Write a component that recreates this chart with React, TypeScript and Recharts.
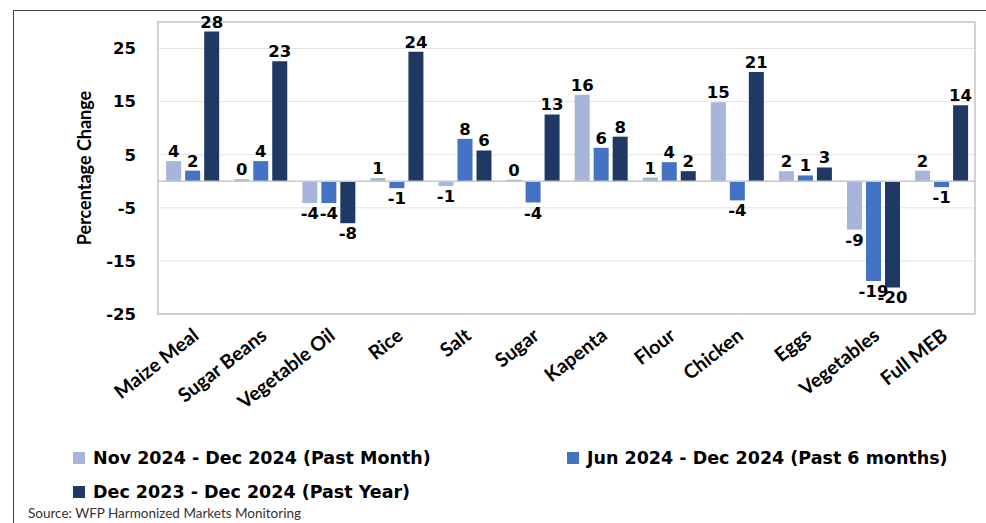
import React from 'react';
import {
  BarChart,
  Bar,
  XAxis,
  YAxis,
  CartesianGrid,
  ReferenceLine,
  ReferenceArea,
  LabelList,
} from 'recharts';

const categories = [
  'Maize Meal',
  'Sugar Beans',
  'Vegetable Oil',
  'Rice',
  'Salt',
  'Sugar',
  'Kapenta',
  'Flour',
  'Chicken',
  'Eggs',
  'Vegetables',
  'Full MEB',
];

const pastMonth = [3.8, 0.4, -4.1, 0.6, -0.9, 0.3, 16.3, 0.7, 14.9, 1.9, -9.1, 2.0];
const pastSixMonths = [2.0, 3.8, -4.1, -1.3, 8.0, -4.0, 6.3, 3.6, -3.6, 1.1, -18.8, -1.1];
const pastYear = [28.2, 22.6, -7.9, 24.4, 5.8, 12.6, 8.4, 1.9, 20.6, 2.6, -20.0, 14.3];

const yTicks = [-25, -15, -5, 5, 15, 25];

const SERIES = [
  { key: 'pastMonth', name: 'Nov 2024 - Dec 2024 (Past Month)', color: '#a7b5db' },
  { key: 'pastSixMonths', name: 'Jun 2024 - Dec 2024 (Past 6 months)', color: '#4472c4' },
  { key: 'pastYear', name: 'Dec 2023 - Dec 2024 (Past Year)', color: '#203864' },
];

const data = categories.map((name, i) => ({
  name,
  pastMonth: pastMonth[i],
  pastSixMonths: pastSixMonths[i],
  pastYear: pastYear[i],
}));

const BOLD_FONT = '"DejaVu Sans", Verdana, sans-serif';
const CAL_FONT = 'Lato, "Open Sans", sans-serif';

const ValueLabel = (props: any) => {
  const { x, y, width, height, value } = props;
  const v = Number(value);
  const top = Math.min(y, y + height);
  const bottom = Math.max(y, y + height);
  return (
    <text
      x={x + width / 2}
      y={v >= 0 ? top - 4 : bottom + 16}
      textAnchor="middle"
      fontFamily={BOLD_FONT}
      fontWeight="bold"
      fontSize={16.5}
      fill="#000"
    >
      {Math.round(v)}
    </text>
  );
};

const CategoryTick = (props: any) => {
  const { x, y, payload } = props;
  const tx = x + 8;
  const ty = y + 16;
  return (
    <text
      x={tx}
      y={ty}
      transform={`rotate(-38, ${tx}, ${ty})`}
      textAnchor="end"
      fontFamily={CAL_FONT}
      fontWeight="bold"
      fontSize={19.5}
      fill="#000"
    >
      {payload.value}
    </text>
  );
};

const App: React.FC = () => {
  return (
    <div
      style={{
        position: 'absolute',
        left: 0,
        top: 0,
        width: 986,
        height: 523,
        background: '#fff',
        overflow: 'hidden',
      }}
    >
      <div
        style={{
          position: 'absolute',
          left: 13,
          top: 10,
          width: 1000,
          height: 600,
          borderLeft: '1.5px solid #404040',
          borderTop: '1.5px solid #404040',
        }}
      />
      <div style={{ position: 'absolute', left: 0, top: 0 }}>
        <BarChart
          width={986}
          height={440}
          data={data}
          margin={{ top: 22, right: 11, bottom: 0, left: 0 }}
          barGap={4}
          barCategoryGap="12%"
        >
          <CartesianGrid vertical={false} stroke="#e3e3e3" horizontalValues={yTicks} />
          <ReferenceArea y1={-25} y2={30} fill="none" stroke="#c4c4c4" strokeWidth={1.5} ifOverflow="visible" />
          <XAxis
            dataKey="name"
            interval={0}
            axisLine={false}
            tickLine={false}
            height={126}
            tick={<CategoryTick />}
          />
          <YAxis
            type="number"
            domain={[-25, 30]}
            ticks={yTicks}
            width={158}
            axisLine={false}
            tickLine={false}
            tickMargin={16}
            tick={{ fontFamily: BOLD_FONT, fontWeight: 'bold', fontSize: 16.5, fill: '#000' }}
            label={{
              content: (p: any) => {
                const vb = p.viewBox || {};
                const cx = (vb.x || 0) + 91;
                const cy = (vb.y || 0) + (vb.height || 0) / 2;
                return (
                  <text
                    x={cx}
                    y={cy}
                    transform={`rotate(-90, ${cx}, ${cy})`}
                    textAnchor="middle"
                    fontFamily={CAL_FONT}
                    fontWeight="bold"
                    fontSize={18}
                    fill="#000"
                  >
                    Percentage Change
                  </text>
                );
              },
            }}
          />
          <ReferenceLine y={0} stroke="#c8c8c8" strokeWidth={1.5} />
          {SERIES.map((s) => (
            <Bar key={s.key} dataKey={s.key} name={s.name} fill={s.color} isAnimationActive={false}>
              <LabelList dataKey={s.key} content={<ValueLabel />} />
            </Bar>
          ))}
        </BarChart>
      </div>

      <div
        style={{
          position: 'absolute',
          left: 73,
          top: 447,
          width: 910,
          display: 'flex',
          flexWrap: 'wrap',
          rowGap: 12,
          fontFamily: BOLD_FONT,
          fontWeight: 'bold',
          fontSize: 17.5,
          color: '#000',
        }}
      >
        {SERIES.map((s, i) => (
          <div
            key={s.key}
            style={{
              display: 'flex',
              alignItems: 'center',
              width: i === 0 ? 494 : 410,
              height: 22,
              whiteSpace: 'nowrap',
            }}
          >
            <span
              style={{
                display: 'inline-block',
                width: 12,
                height: 12,
                background: s.color,
                marginRight: 8,
              }}
            />
            <span>{s.name}</span>
          </div>
        ))}
      </div>

      <div
        style={{
          position: 'absolute',
          left: 28,
          top: 505,
          fontFamily: CAL_FONT,
          fontSize: 13.5,
          color: '#333',
          whiteSpace: 'nowrap',
        }}
      >
        Source: WFP Harmonized Markets Monitoring
      </div>
    </div>
  );
};

export default App;
